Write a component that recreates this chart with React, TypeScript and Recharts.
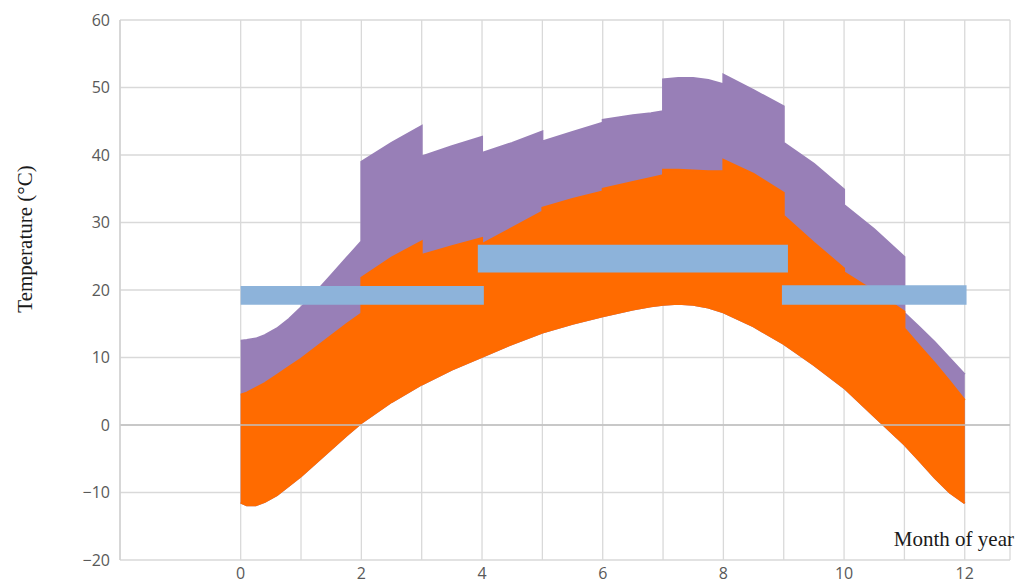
import React from 'react';
import { ComposedChart, Area, XAxis, YAxis, CartesianGrid, ReferenceLine, Label } from 'recharts';

// Month positions (step points appear twice: value just before and just after the step)
const monthX = [0, 0.1, 0.25, 0.4, 0.6, 0.8, 1, 1.25, 1.5, 1.75, 2, 2, 2.5, 3, 3, 3.5, 4, 4, 4.5, 5, 5, 5.5, 6, 6, 6.5, 6.8, 7, 7, 7.25, 7.5, 7.75, 8, 8, 8.5, 9, 9, 9.5, 10, 10, 10.5, 11, 11, 11.25, 11.5, 11.75, 12];
const purpleTop = [12.5, 12.6, 12.8, 13.3, 14.3, 15.7, 17.4, 19.7, 22.2, 24.7, 27.2, 39.0, 41.8, 44.3, 39.8, 41.3, 42.7, 40.3, 41.8, 43.5, 42.0, 43.4, 44.8, 45.2, 45.9, 46.2, 46.5, 51.2, 51.4, 51.4, 51.1, 50.5, 51.9, 49.6, 47.2, 41.8, 38.7, 34.9, 32.6, 29.0, 24.9, 16.6, 14.5, 12.3, 9.9, 7.5];
const orangeTop = [4.5, 4.8, 5.5, 6.2, 7.4, 8.6, 9.8, 11.5, 13.2, 14.9, 16.5, 21.8, 24.8, 27.2, 25.2, 26.5, 27.7, 26.8, 29.2, 31.6, 32.2, 33.5, 34.6, 35.0, 36.0, 36.6, 37.0, 37.8, 37.8, 37.7, 37.6, 37.6, 39.3, 37.2, 34.4, 31.0, 27.0, 23.2, 22.6, 19.8, 16.8, 14.3, 11.7, 9.2, 6.5, 3.7];
const orangeLow = [-11.5, -11.9, -11.9, -11.4, -10.4, -9.0, -7.6, -5.6, -3.6, -1.6, 0.3, 0.3, 3.4, 6.0, 6.0, 8.2, 10.1, 10.1, 12.0, 13.7, 13.7, 15.0, 16.1, 16.1, 17.1, 17.6, 17.8, 17.8, 17.95, 17.8, 17.4, 16.7, 16.7, 14.6, 12.0, 12.0, 8.9, 5.5, 5.5, 1.3, -2.9, -2.9, -5.3, -7.8, -10.0, -11.6];

// Comfort band (blue)
const bandStart = [0, 3.93, 8.97];
const bandEnd = [4.03, 9.07, 12.03];
const bandLow = [17.8, 22.6, 17.8];
const bandHigh = [20.6, 26.7, 20.7];

const yTicks = [-20, -10, 0, 10, 20, 30, 40, 50, 60];
const xTicks = [0, 1, 2, 3, 4, 5, 6, 7, 8, 9, 10, 11, 12, 12.75];
const xLabelTicks = [0, 2, 4, 6, 8, 10, 12];

const mainData = monthX.map((x, i) => ({
  x,
  purple: [orangeLow[i], purpleTop[i]],
  orange: [orangeLow[i], orangeTop[i]],
}));

const bandData = bandStart.map((s, i) => [
  { x: s, band: [bandLow[i], bandHigh[i]] },
  { x: bandEnd[i], band: [bandLow[i], bandHigh[i]] },
]);

const PURPLE = '#987FB7';
const ORANGE = '#FF6B00';
const BLUE = '#8DB3DA';

const tickStyle = { fontFamily: '"Open Sans", "Noto Sans", sans-serif', fontSize: 16, fill: '#595959' };
const titleStyle = { fontFamily: '"Liberation Serif", "DejaVu Serif", serif', fontSize: 21, fill: '#1a1a1a' };
const fmt = (v: number) => String(v).replace('-', '\u2212');

export default function App() {
  return (
    <div style={{ position: 'absolute', left: 0, top: 0, width: 1026, height: 583, background: '#fff' }}>
      <ComposedChart width={1026} height={583} data={mainData} margin={{ top: 20, right: 16, bottom: 0, left: 0 }}>
        <CartesianGrid stroke="#d9d9d9" strokeWidth={1.3} />
        <XAxis
          type="number"
          dataKey="x"
          domain={[-2, 12.75]}
          ticks={xTicks}
          allowDataOverflow
          height={23}
          axisLine={false}
          tickLine={false}
          tick={tickStyle}
          interval={0}
          tickFormatter={(v: number) => (xLabelTicks.includes(v) ? fmt(v) : '')}
        >
          <Label
            content={() => (
              <text x={1014} y={546} textAnchor="end" style={titleStyle}>
                Month of year
              </text>
            )}
          />
        </XAxis>
        <YAxis
          type="number"
          domain={[-20, 60]}
          ticks={yTicks}
          width={120}
          axisLine={{ stroke: '#d0d0d0', strokeWidth: 1.3 }}
          tickLine={false}
          tickMargin={4}
          tick={tickStyle}
          interval={0}
          tickFormatter={fmt}
        >
          <Label
            content={() => (
              <text
                x={27}
                y={239}
                textAnchor="middle"
                dominantBaseline="middle"
                transform="rotate(-90 27 239)"
                style={titleStyle}
              >
                Temperature (°C)
              </text>
            )}
          />
        </YAxis>
        <ReferenceLine y={0} stroke="#bfbfbf" strokeWidth={1.5} />
        <Area type="linear" dataKey="purple" fill={PURPLE} fillOpacity={1} stroke={PURPLE} strokeWidth={2} isAnimationActive={false} dot={false} activeDot={false} />
        <Area type="linear" dataKey="orange" fill={ORANGE} fillOpacity={1} stroke={ORANGE} strokeWidth={2} isAnimationActive={false} dot={false} activeDot={false} />
        {bandData.map((d, i) => (
          <Area
            key={i}
            data={d}
            type="linear"
            dataKey="band"
            fill={BLUE}
            fillOpacity={1}
            stroke="none"
            isAnimationActive={false}
            dot={false}
            activeDot={false}
          />
        ))}
      </ComposedChart>
    </div>
  );
}
